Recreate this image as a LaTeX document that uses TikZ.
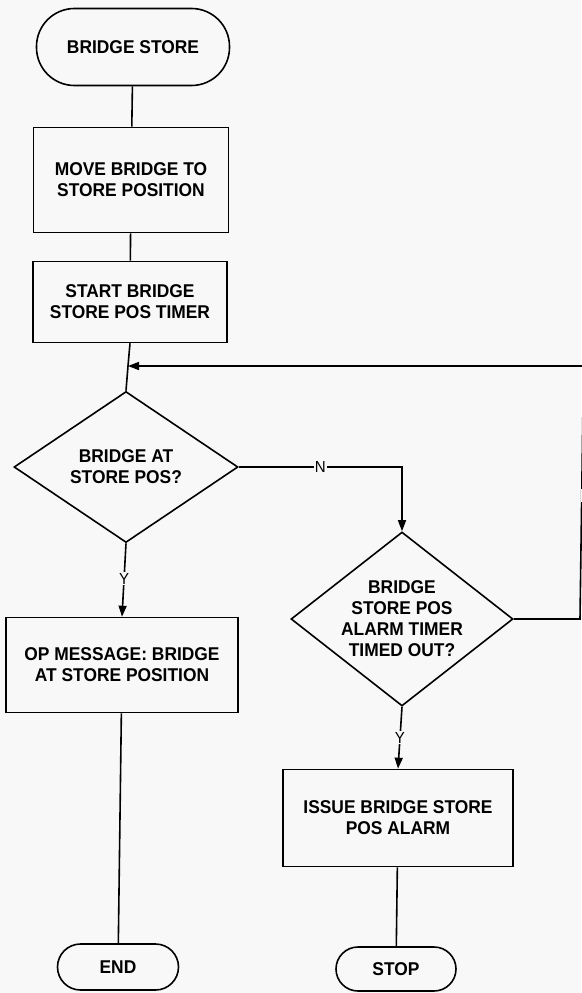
\documentclass[tikz,border=0pt]{standalone}
\usepackage{fontspec}
\setmainfont{Liberation Sans}[FakeStretch=0.94]
\usetikzlibrary{shapes.geometric,arrows.meta}
\definecolor{bg}{RGB}{248,248,248}
\begin{document}
\begin{tikzpicture}[x=1pt,y=-1pt,
  line width=1.6pt,
  txt/.style={font=\fontsize{18.5}{21}\selectfont\bfseries, align=center},
  term/.style={txt, draw, rectangle, inner sep=0pt},
  box/.style={txt, draw, rectangle, inner sep=0pt},
  dec/.style={txt, draw, diamond, inner sep=0pt},
  lab/.style={font=\fontsize{16}{16}\selectfont, fill=bg, inner sep=1pt},
  arr/.style={-{Triangle[length=11pt,width=8pt]}}
]
\fill[bg] (0,0) rectangle (581,993);
\useasboundingbox (0,0) rectangle (581,993);

\node[term, rounded corners=38pt, minimum width=193pt, minimum height=77pt] (start) at (133,47) {BRIDGE STORE};
\node[box, minimum width=195pt, minimum height=105pt] (b1) at (131,180) {MOVE BRIDGE TO\\STORE POSITION};
\node[box, minimum width=194pt, minimum height=81pt] (b2) at (130,302) {START BRIDGE\\STORE POS TIMER};
\node[dec, aspect=1.48, minimum width=224pt, minimum height=151pt] (d1) at (126,467) {BRIDGE AT\\STORE POS?};
\node[box, minimum width=232pt, minimum height=95pt] (b3) at (122,665) {OP MESSAGE: BRIDGE\\AT STORE POSITION};
\node[term, rounded corners=23pt, minimum width=121pt, minimum height=46pt] (end) at (118,967) {END};
\node[dec, aspect=1.28, minimum width=222pt, minimum height=174pt] (d2) at (402,619) {BRIDGE\\STORE POS\\ALARM TIMER\\TIMED OUT?};
\node[box, minimum width=230pt, minimum height=97pt] (b4) at (398,818) {ISSUE BRIDGE STORE\\POS ALARM};
\node[term, rounded corners=22pt, minimum width=120pt, minimum height=44pt] (stop) at (396,969) {STOP};

\coordinate (m) at (128,366);
\coordinate (rb) at (580,0);
\coordinate (rt) at (583.5,0);

\draw (start) -- (b1);
\draw (b1) -- (b2);
\draw (b2.south) -- (m) -- (d1.north);
\draw[arr] (d1.south) -- node[lab, pos=0.48] (y1) {Y} (b3.north);
\draw (b3) -- (end);
\draw[arr] (d1.east) -- node[lab] (n1) {N} (d1.east -| d2.north) -- (d2.north);
\draw[arr] (d2.south) -- node[lab, pos=0.5] (y2) {Y} (b4.north);
\draw (b4) -- (stop);
\draw[arr] (d2.east) -- (d2.east -| rb) -- (rt |- m) -- (m);
\node[lab] (n2) at (587.5,495) {N};
\end{tikzpicture}
\end{document}
